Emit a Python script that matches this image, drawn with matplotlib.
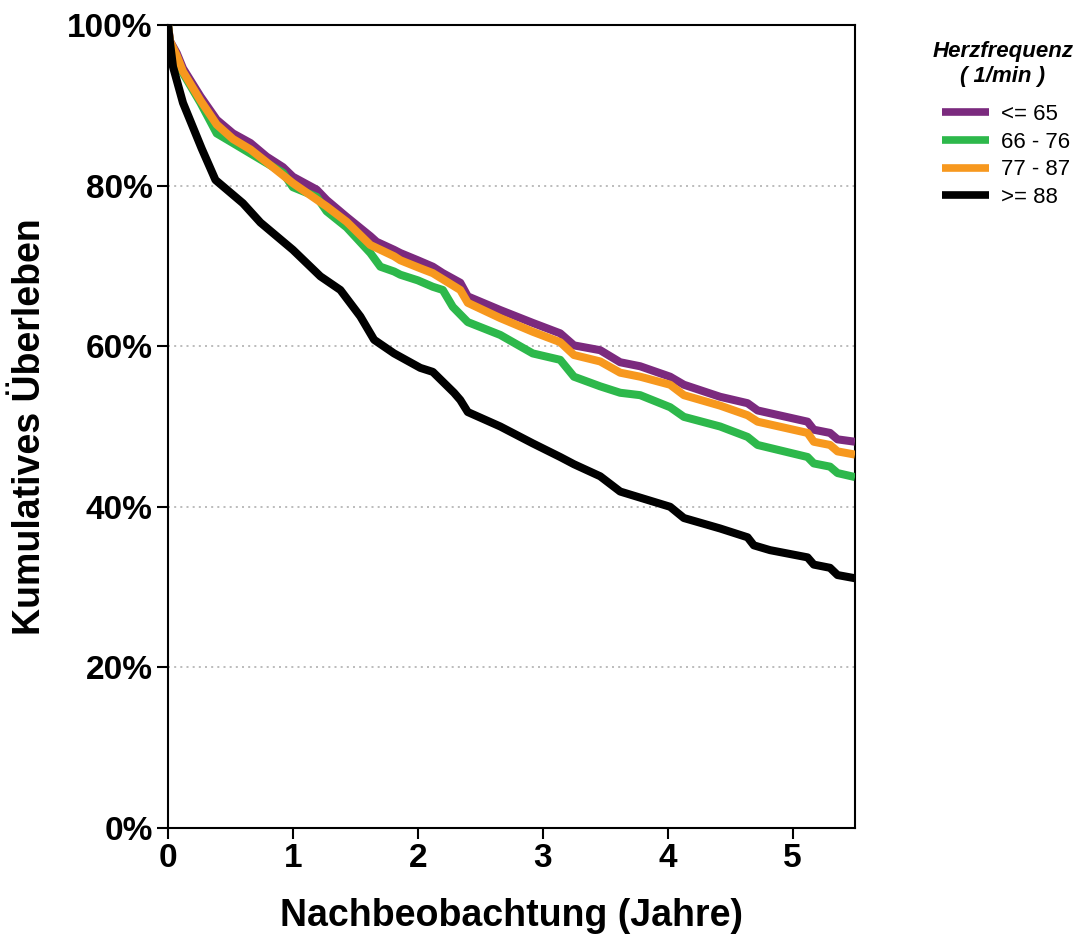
"""
Kaplan-Meier style survival curves by heart-rate group.
Writes out.png (1079 x 936 px).
"""
import matplotlib
matplotlib.use("Agg")
import matplotlib.pyplot as plt
from matplotlib.ticker import FuncFormatter

plt.rcParams["font.family"] = ["Liberation Sans", "DejaVu Sans"]

# survival (%), per group
t_le65 = [0, 0.016, 0.07, 0.12, 0.26, 0.39, 0.52, 0.66, 0.79, 0.92, 1.0, 1.19, 1.27,
          1.43, 1.62, 1.67, 1.81, 1.86, 2.0, 2.12, 2.2, 2.34, 2.40, 2.66, 2.92, 3.14,
          3.25, 3.46, 3.62, 3.78, 4.02, 4.13, 4.42, 4.64, 4.72, 5.12, 5.17, 5.30, 5.36, 5.5]
s_le65 = [100, 98, 96.5, 94.6, 91.1, 88.2, 86.5, 85.3, 83.6, 82.3, 81.1, 79.5, 78.2,
          76.1, 73.7, 73.0, 72.0, 71.6, 70.7, 69.9, 69.1, 67.9, 66.2, 64.5, 62.9, 61.6,
          60.1, 59.5, 58.0, 57.5, 56.2, 55.2, 53.7, 52.9, 52.0, 50.6, 49.6, 49.2, 48.4, 48.1]

t_66_76 = [0, 0.016, 0.07, 0.12, 0.26, 0.39, 0.52, 0.66, 0.92, 1.0, 1.19, 1.27, 1.43,
           1.62, 1.70, 1.81, 1.86, 2.0, 2.12, 2.2, 2.28, 2.40, 2.66, 2.92, 3.14, 3.25,
           3.46, 3.62, 3.78, 4.02, 4.13, 4.42, 4.64, 4.72, 5.12, 5.17, 5.30, 5.36, 5.5]
s_66_76 = [100, 97.5, 95.5, 94.0, 90.3, 86.5, 85.3, 84.0, 81.6, 79.8, 78.6, 76.8, 74.8,
           71.6, 69.9, 69.3, 68.9, 68.2, 67.4, 67.0, 64.9, 63.0, 61.4, 59.1, 58.3, 56.2,
           55.0, 54.2, 53.9, 52.4, 51.2, 50.0, 48.7, 47.7, 46.2, 45.4, 45.0, 44.2, 43.7]

t_77_87 = [0, 0.016, 0.07, 0.12, 0.26, 0.39, 0.52, 0.66, 0.79, 1.0, 1.27, 1.43, 1.62,
           1.81, 1.86, 2.02, 2.12, 2.34, 2.40, 2.66, 2.92, 3.14, 3.25, 3.46, 3.62, 3.78,
           4.02, 4.13, 4.42, 4.64, 4.72, 5.12, 5.17, 5.30, 5.36, 5.5]
s_77_87 = [100, 98, 96.2, 94.2, 90.6, 87.6, 85.8, 84.5, 82.9, 80.3, 77.4, 75.5, 72.6,
           71.2, 70.7, 69.7, 69.1, 67.0, 65.4, 63.5, 61.8, 60.5, 58.9, 58.1, 56.7, 56.2,
           55.2, 53.9, 52.6, 51.4, 50.6, 49.2, 48.1, 47.7, 46.9, 46.5]

t_ge88 = [0, 0.016, 0.04, 0.12, 0.27, 0.38, 0.6, 0.74, 0.87, 1.0, 1.22, 1.38, 1.54,
          1.65, 1.81, 2.02, 2.12, 2.29, 2.34, 2.4, 2.66, 2.92, 3.14, 3.25, 3.46, 3.62,
          4.02, 4.13, 4.42, 4.64, 4.69, 4.82, 5.12, 5.17, 5.3, 5.36, 5.5]
s_ge88 = [100, 97.8, 94.8, 90.3, 84.6, 80.7, 77.8, 75.4, 73.7, 72.0, 68.7, 67.0, 63.7,
          60.8, 59.1, 57.3, 56.8, 54.2, 53.3, 51.8, 50.0, 47.9, 46.2, 45.3, 43.8, 41.9,
          40.0, 38.6, 37.3, 36.2, 35.2, 34.6, 33.7, 32.8, 32.4, 31.5, 31.1]

group_labels = ["<= 65", "66 - 76", "77 - 87", ">= 88"]
group_colors = ["#7B2A7E", "#2DB84B", "#F7981E", "#000000"]
legend_title = "Herzfrequenz\n( 1/min )"

x_ticks = [0, 1, 2, 3, 4, 5]
y_ticks = [0, 20, 40, 60, 80, 100]

fig = plt.figure(figsize=(10.79, 9.36), dpi=100)
ax = fig.add_axes([0.1557, 0.1154, 0.6367, 0.8579])

series = [(t_le65, s_le65), (t_66_76, s_66_76), (t_77_87, s_77_87), (t_ge88, s_ge88)]
# black underneath, then green, orange, purple on top
order = [3, 1, 2, 0]
lines = {}
for i in order:
    t, s = series[i]
    lines[i], = ax.plot(t, s, color=group_colors[i], lw=5.8, solid_joinstyle="round",
                        solid_capstyle="butt", zorder=3 + i)

ax.set_xlim(0, 5.5)
ax.set_ylim(0, 100)
ax.set_xticks(x_ticks)
ax.set_yticks(y_ticks)
ax.yaxis.set_major_formatter(FuncFormatter(lambda v, _: f"{v:.0f}%"))
for y in y_ticks[1:-1]:
    ax.axhline(y, color="#b0b0b0", lw=1.2, ls=(0, (1.2, 2.5)), zorder=1)

ax.tick_params(axis="both", direction="out", length=8, width=1.5, labelsize=24, pad=3)
for lab in ax.get_xticklabels() + ax.get_yticklabels():
    lab.set_fontweight("bold")
for sp in ax.spines.values():
    sp.set_linewidth(1.5)

ax.set_xlabel("Nachbeobachtung (Jahre)", fontsize=27, fontweight="bold", labelpad=17)
ax.set_ylabel("Kumulatives Überleben", fontsize=27, fontweight="bold", labelpad=14)

fig.text(1003 / 1079, 1 - 64 / 936, legend_title, ha="center", va="center",
         fontsize=16, fontweight="bold", fontstyle="italic", linespacing=1.25)
leg = fig.legend([lines[i] for i in range(4)], group_labels,
                 loc="upper left", bbox_to_anchor=(942 / 1079, 1 - 104 / 936),
                 frameon=False, fontsize=16, borderpad=0, borderaxespad=0,
                 handlelength=2.1, handletextpad=0.55, labelspacing=0.3)
for h in leg.get_lines():
    h.set_linewidth(5.5)

fig.savefig("out.png", dpi=100)
